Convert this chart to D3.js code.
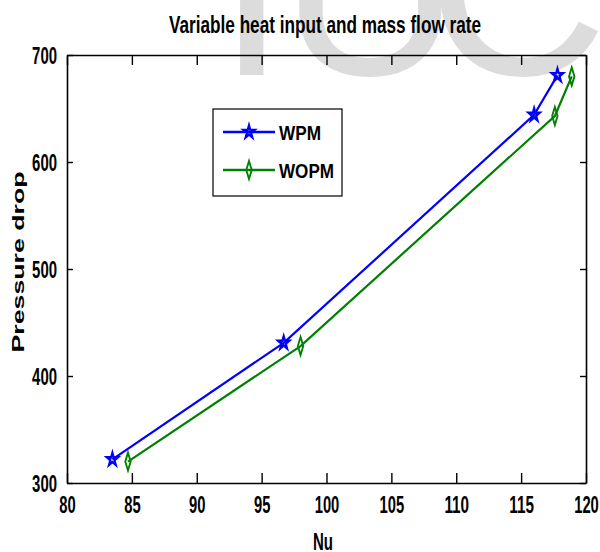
<!DOCTYPE html>
<html>
<head>
<meta charset="utf-8">
<script src="https://cdn.jsdelivr.net/npm/d3@7/dist/d3.min.js"></script>
<style>
  body { margin: 0; background: #fff; }
  text { font-family: "Liberation Sans", Arial, sans-serif; fill: #000; }
</style>
</head>
<body>
<script>
// data
const nuWPM = [83.5, 96.7, 116.0, 117.8];
const dpWPM = [322, 431, 644, 681];
const nuWOPM = [84.7, 98.0, 117.6, 118.9];
const dpWOPM = [320, 428, 643, 680];
const xTicks = [80, 85, 90, 95, 100, 105, 110, 115, 120];
const yTicks = [300, 400, 500, 600, 700];
const seriesNames = ["WPM", "WOPM"];

const width = 600, height = 552;
const margin = {left: 67, right: 14, top: 55, bottom: 69};

const svg = d3.select("body").append("svg")
    .attr("width", width)
    .attr("height", height);

const x = d3.scaleLinear().domain([80, 120]).range([margin.left, width - margin.right]);
const y = d3.scaleLinear().domain([300, 700]).range([height - margin.bottom, margin.top]);

// faint watermark letters, they run a little into the plot
const mark = svg.append("g").style("font-size", "250px");
[["I", 217], ["U", 280], ["C", 427]].forEach(function(l) {
  mark.append("text")
      .attr("x", l[1]).attr("y", 75)
      .style("fill", "#dcdcdc")
      .text(l[0]);
});

function squeeze(sel, perChar) {
  sel.each(function() {
    const t = d3.select(this);
    t.attr("textLength", t.text().length * perChar).attr("lengthAdjust", "spacingAndGlyphs");
  });
}

// axes, ticks pointing inwards on all four sides
const gx = svg.append("g").attr("transform", `translate(0,${y(300)})`)
    .call(d3.axisBottom(x).tickValues(xTicks).tickSizeInner(-10).tickSizeOuter(0).tickPadding(13));
const gxTop = svg.append("g").attr("transform", `translate(0,${y(700)})`)
    .call(d3.axisTop(x).tickValues(xTicks).tickSizeInner(-10).tickSizeOuter(0).tickFormat(""));
const gy = svg.append("g").attr("transform", `translate(${x(80)},0)`)
    .call(d3.axisLeft(y).tickValues(yTicks).tickSizeInner(-6).tickSizeOuter(0).tickPadding(10));
const gyRight = svg.append("g").attr("transform", `translate(${x(120)},0)`)
    .call(d3.axisRight(y).tickValues(yTicks).tickSizeInner(-6).tickSizeOuter(0).tickFormat(""));

[gx, gxTop, gy, gyRight].forEach(function(g) {
  g.select(".domain").attr("stroke", "#000").attr("stroke-width", 1.6);
  g.selectAll(".tick line").attr("stroke", "#000").attr("stroke-width", 1.4);
});
gx.selectAll(".tick text").style("font-size", "24px").style("font-weight", "bold").attr("fill", "#000").attr("dy", "0.71em");
gy.selectAll(".tick text").style("font-size", "24px").style("font-weight", "bold").attr("fill", "#000").attr("dy", "0.35em");
squeeze(gx.selectAll(".tick text"), 8.2);
squeeze(gy.selectAll(".tick text"), 8.3);

// title and axis labels
svg.append("text")
    .attr("x", 325).attr("y", 33)
    .attr("text-anchor", "middle")
    .style("font-size", "24px")
    .style("font-weight", "bold")
    .attr("textLength", 312).attr("lengthAdjust", "spacingAndGlyphs")
    .text("Variable heat input and mass flow rate");

svg.append("text")
    .attr("x", 323).attr("y", 550)
    .attr("text-anchor", "middle")
    .style("font-size", "24px")
    .style("font-weight", "bold")
    .attr("textLength", 20).attr("lengthAdjust", "spacingAndGlyphs")
    .text("Nu");

svg.append("text")
    .attr("transform", "translate(24,262) rotate(-90)")
    .attr("text-anchor", "middle")
    .style("font-size", "17px")
    .style("font-weight", "bold")
    .attr("textLength", 181).attr("lengthAdjust", "spacingAndGlyphs")
    .text("Pressure drop");

// series
const starPath = d3.symbol(d3.symbolStar, 50)();
const diamondPath = d3.symbol(d3.symbolDiamond, 60)();

const series = [
  {name: seriesNames[0], nu: nuWPM, dp: dpWPM, color: "#0000ff", shape: starPath, sx: 0.85, sy: 1.0},
  {name: seriesNames[1], nu: nuWOPM, dp: dpWOPM, color: "#008000", shape: diamondPath, sx: 0.65, sy: 1.25}
];

const line = d3.line().x(d => x(d[0])).y(d => y(d[1]));

series.forEach(function(s) {
  const pts = d3.zip(s.nu, s.dp);
  svg.append("path")
      .datum(pts)
      .attr("d", line)
      .attr("fill", "none")
      .attr("stroke", s.color)
      .attr("stroke-width", 2.2);
  svg.selectAll(null)
      .data(pts)
    .enter().append("path")
      .attr("d", s.shape)
      .attr("transform", d => `translate(${x(d[0])},${y(d[1])}) scale(${s.sx},${s.sy})`)
      .attr("fill", "none")
      .attr("stroke", s.color)
      .attr("stroke-width", 2.6);
});

// legend
const legend = svg.append("g");
legend.append("rect")
    .attr("x", 213).attr("y", 109)
    .attr("width", 129).attr("height", 87)
    .attr("fill", "#fff")
    .attr("stroke", "#000")
    .attr("stroke-width", 1.2);

series.forEach(function(s, i) {
  const ly = 132 + i * 38;
  legend.append("line")
      .attr("x1", 223).attr("x2", 275)
      .attr("y1", ly).attr("y2", ly)
      .attr("stroke", s.color).attr("stroke-width", 2.4);
  legend.append("path")
      .attr("d", s.shape)
      .attr("transform", `translate(249,${ly}) scale(${s.sx},${s.sy})`)
      .attr("fill", "none")
      .attr("stroke", s.color)
      .attr("stroke-width", 2.6);
  legend.append("text")
      .attr("x", 279).attr("y", ly + 8)
      .style("font-size", "21px")
      .style("font-weight", "bold")
      .attr("textLength", s.name.length === 3 ? 42 : 55)
      .attr("lengthAdjust", "spacingAndGlyphs")
      .text(s.name);
});
</script>
</body>
</html>
